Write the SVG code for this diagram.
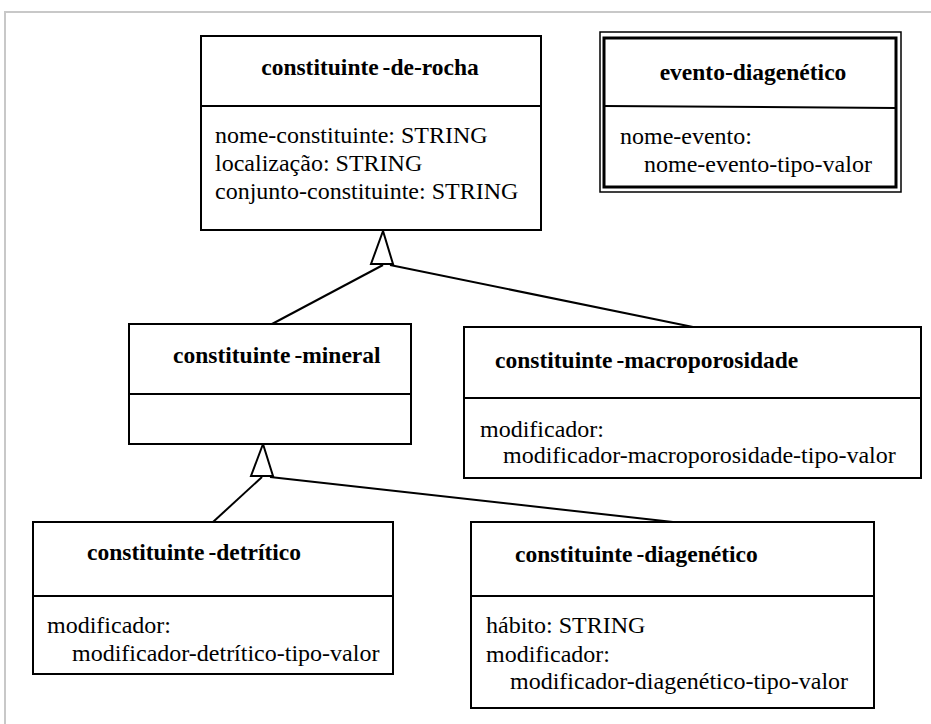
<svg xmlns="http://www.w3.org/2000/svg" width="931" height="724" viewBox="0 0 931 724">
<style>
  .box{fill:#fff;stroke:#000;stroke-width:2}
  .div{stroke:#000;stroke-width:2}
  .ttl{font-family:"Liberation Serif","Times New Roman",serif;font-weight:bold;font-size:23.5px;fill:#000;word-spacing:-2px}
  .att{font-family:"Liberation Serif","Times New Roman",serif;font-size:24px;fill:#000}
  .con{stroke:#000;stroke-width:2;fill:none}
  .tri{fill:#fff;stroke:#000;stroke-width:2;stroke-linejoin:miter}
</style>
<rect x="0" y="0" width="931" height="724" fill="#fff"/>
<rect x="5" y="12" width="940" height="730" fill="none" stroke="#c8c8c8" stroke-width="2"/>

<g id="connectors">
  <line class="con" x1="383" y1="265" x2="272" y2="324"/>
  <line class="con" x1="390" y1="265" x2="693" y2="327"/>
  <polygon class="tri" points="383,231 371,264 393,264"/>
  <line class="con" x1="262" y1="477" x2="213" y2="522"/>
  <line class="con" x1="270" y1="477" x2="673" y2="522"/>
  <polygon class="tri" points="263,444 251,476 273,476"/>
</g>

<g id="constituinte-de-rocha">
  <rect class="box" x="201" y="36" width="340" height="194"/>
  <line class="div" x1="201" y1="106" x2="541" y2="106"/>
  <text class="ttl" x="370" y="75" text-anchor="middle">constituinte -de-rocha</text>
  <text class="att" x="215" y="143">nome-constituinte: STRING</text>
  <text class="att" x="215" y="171">localização: STRING</text>
  <text class="att" x="215" y="199">conjunto-constituinte: STRING</text>
</g>

<g id="evento-diagenetico">
  <rect x="600" y="32" width="301" height="160" fill="#fff" stroke="#000" stroke-width="1.5"/>
  <rect x="604" y="38" width="292" height="149" fill="none" stroke="#000" stroke-width="3"/>
  <line x1="604" y1="106" x2="896" y2="108" stroke="#000" stroke-width="2"/>
  <text class="ttl" x="753" y="80" text-anchor="middle">evento-diagenético</text>
  <text class="att" x="620" y="144">nome-evento:</text>
  <text class="att" x="644" y="172">nome-evento-tipo-valor</text>
</g>

<g id="constituinte-mineral">
  <rect class="box" x="129" y="324" width="282" height="120"/>
  <line class="div" x1="129" y1="394" x2="411" y2="394"/>
  <text class="ttl" x="173" y="363">constituinte -mineral</text>
</g>

<g id="constituinte-macroporosidade">
  <rect class="box" x="464" y="327" width="457" height="151"/>
  <line class="div" x1="464" y1="398" x2="921" y2="398"/>
  <text class="ttl" x="495" y="368">constituinte -macroporosidade</text>
  <text class="att" x="480" y="437">modificador:</text>
  <text class="att" x="503" y="463">modificador-macroporosidade-tipo-valor</text>
</g>

<g id="constituinte-detritico">
  <rect class="box" x="33" y="522" width="360" height="152"/>
  <line class="div" x1="33" y1="596" x2="393" y2="596"/>
  <text class="ttl" x="87" y="560">constituinte -detrítico</text>
  <text class="att" x="47" y="633">modificador:</text>
  <text class="att" x="72" y="661">modificador-detrítico-tipo-valor</text>
</g>

<g id="constituinte-diagenetico">
  <rect class="box" x="471" y="522" width="403" height="186"/>
  <line class="div" x1="471" y1="596" x2="874" y2="596"/>
  <text class="ttl" x="515" y="562">constituinte -diagenético</text>
  <text class="att" x="486" y="633">hábito: STRING</text>
  <text class="att" x="486" y="662">modificador:</text>
  <text class="att" x="510" y="689">modificador-diagenético-tipo-valor</text>
</g>
</svg>
